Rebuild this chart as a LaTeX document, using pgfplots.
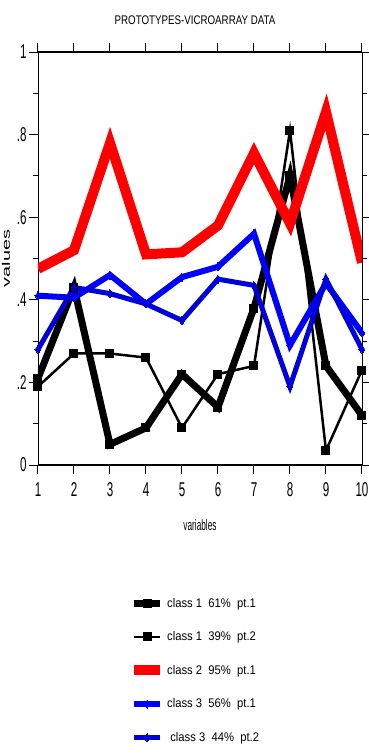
\documentclass[border=0pt]{standalone}
\usepackage{fontspec}
\setmainfont{Liberation Sans}
\usepackage{graphicx}
\usepackage{pgfplots}
\pgfplotsset{compat=1.18}
\newcommand{\sx}[2]{\scalebox{#1}[1]{#2}}
\begin{document}
\begin{tikzpicture}[x=1pt,y=1pt]
\path[use as bounding box] (0,0) rectangle (368,-755);
\node[font=\fontsize{12.5}{14}\selectfont] at (195,-20) {\sx{0.78}{PROTOTYPES-VICROARRAY DATA}};
\begin{axis}[
  at={(38pt,-465pt)}, anchor=south west,
  scale only axis, width=324pt, height=413pt,
  xmin=1, xmax=10, ymin=0, ymax=1,
  xtick={1,...,10}, ytick={0,0.2,0.4,0.6,0.8,1},
  xticklabels={\sx{0.58}{1},\sx{0.58}{2},\sx{0.58}{3},\sx{0.58}{4},\sx{0.58}{5},\sx{0.58}{6},\sx{0.58}{7},\sx{0.58}{8},\sx{0.58}{9},\sx{0.58}{10}},
  yticklabels={\sx{0.58}{0},\sx{0.58}{.2},\sx{0.58}{.4},\sx{0.58}{.6},\sx{0.58}{.8},\sx{0.58}{1}},
  minor ytick={0.1,0.3,0.5,0.7,0.9},
  tick align=outside, major tick length=9pt, minor tick length=5pt,
  tick style={black, line width=1pt},
  separate axis lines,
  every outer x axis line/.append style={line width=2.5pt},
  every outer y axis line/.append style={line width=0.8pt},
  axis line style={black},
  ticklabel style={font=\fontsize{20}{22}\selectfont},
  xticklabel style={yshift=-5pt},
  yticklabel style={xshift=1pt},
  xlabel={\sx{0.55}{variables}}, ylabel={\sx{1.8}{values}},
  xlabel style={font=\fontsize{15}{17}\selectfont, yshift=-16pt},
  ylabel style={font=\fontsize{11}{13}\selectfont, yshift=0pt},
  legend style={at={(0.485,-0.312)}, anchor=north, draw=none, fill=none,
    font=\fontsize{12.5}{14}\selectfont, row sep=19pt,
    legend cell align=left},
  legend image code/.code={%
    \draw[mark repeat=2,mark phase=2,#1] plot coordinates {(0pt,0pt) (13pt,0pt) (26pt,0pt)};},
]
\addplot[black, line width=7pt, mark=square*, mark size=4pt, mark options={line width=0pt}] coordinates {
(1,0.21) (2,0.43) (3,0.05) (4,0.09) (5,0.22) (6,0.14) (7,0.38) (8,0.70) (9,0.24) (10,0.12)};
\addlegendentry{\sx{0.9}{class 1\ \ 61\%\ \ pt.1}}
\addplot[black, line width=2.5pt, mark=square*, mark size=4pt, mark options={line width=0pt}] coordinates {
(1,0.19) (2,0.27) (3,0.27) (4,0.26) (5,0.09) (6,0.22) (7,0.24) (8,0.81) (9,0.035) (10,0.23)};
\addlegendentry{\sx{0.9}{class 1\ \ 39\%\ \ pt.2}}
\addplot[red, line width=10pt, line join=miter] coordinates {
(1,0.475) (2,0.52) (3,0.78) (4,0.51) (5,0.515) (6,0.58) (7,0.755) (8,0.585) (9,0.855) (10,0.49)};
\addlegendentry{\sx{0.9}{class 2\ \ 95\%\ \ pt.1}}
\addplot[blue, line width=6pt, line join=miter, mark=diamond*, mark size=4pt, mark options={line width=0pt}] coordinates {
(1,0.41) (2,0.405) (3,0.46) (4,0.39) (5,0.455) (6,0.48) (7,0.56) (8,0.29) (9,0.44) (10,0.32)};
\addlegendentry{\sx{0.9}{class 3\ \ 56\%\ \ pt.1}}
\addplot[blue!85!black, line width=5pt, line join=miter, mark=diamond*, mark size=4pt, mark options={line width=0pt}] coordinates {
(1,0.28) (2,0.43) (3,0.415) (4,0.39) (5,0.35) (6,0.45) (7,0.435) (8,0.19) (9,0.45) (10,0.28)};
\addlegendentry{\sx{0.9}{\ class 3\ \ 44\%\ \ pt.2}}
\end{axis}
\end{tikzpicture}
\end{document}
